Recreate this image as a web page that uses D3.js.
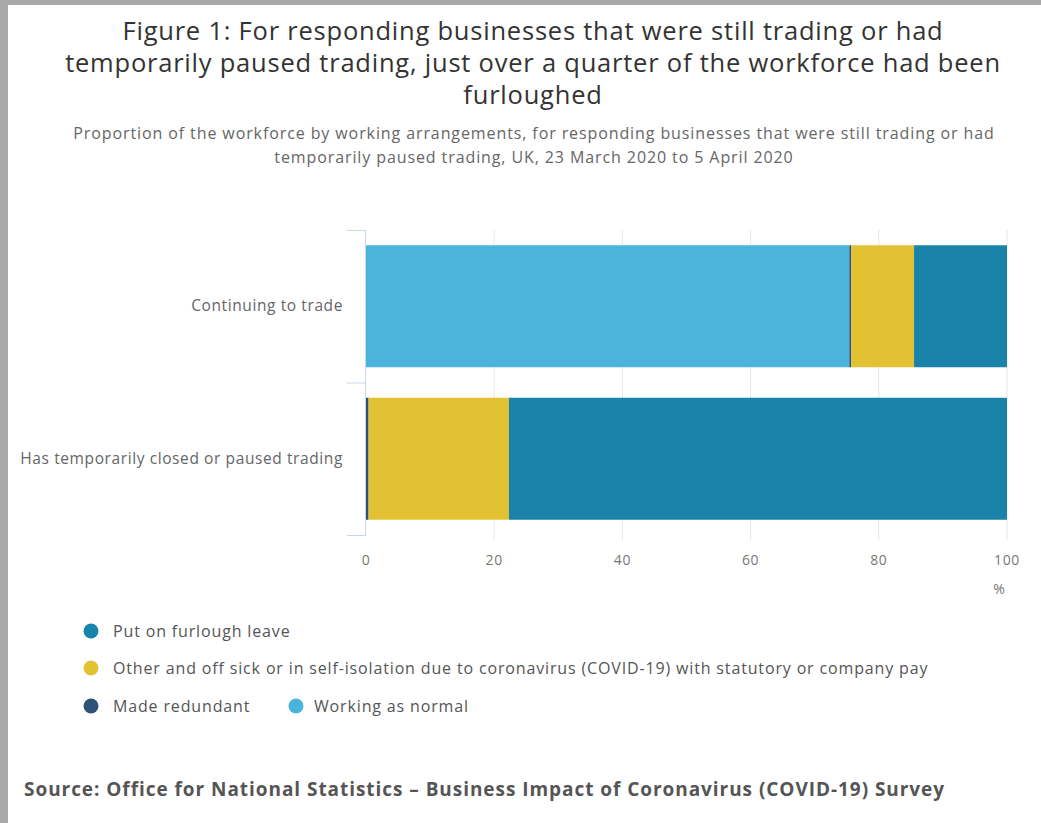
<!DOCTYPE html>
<html>
<head>
<meta charset="utf-8">
<script src="https://cdn.jsdelivr.net/npm/d3@7"></script>
<style>
  body { margin: 0; background: #a8a8a8; }
  svg { display: block; font-family: "Open Sans", sans-serif; }
</style>
</head>
<body>
<div id="chart"></div>
<script>
const categories = ["Continuing to trade", "Has temporarily closed or paused trading"];
const seriesKeys = ["normal", "redundant", "other", "furlough"];
const workingAsNormal = [75.4, 0.0];
const madeRedundant = [0.3, 0.4];
const otherSick = [9.8, 21.9];
const furlough = [14.5, 77.7];
const xTicks = [0, 20, 40, 60, 80, 100];

const legendItems = [
  { key: "furlough", label: "Put on furlough leave" },
  { key: "other", label: "Other and off sick or in self-isolation due to coronavirus (COVID-19) with statutory or company pay" },
  { key: "redundant", label: "Made redundant" },
  { key: "normal", label: "Working as normal" }
];

const colors = {
  furlough: "#1a83aa",
  other: "#e2c232",
  redundant: "#2e5277",
  normal: "#4ab4dc"
};

const width = 1041;
const height = 823;

// build rows for the stack
const rows = categories.map((c, i) => ({
  cat: c,
  normal: workingAsNormal[i],
  redundant: madeRedundant[i],
  other: otherSick[i],
  furlough: furlough[i]
}));

const svg = d3.select("#chart")
  .append("svg")
  .attr("width", width)
  .attr("height", height);

// gray frame on the left and top, white card
svg.append("rect")
  .attr("x", 8).attr("y", 5)
  .attr("width", width - 8).attr("height", height - 5)
  .attr("fill", "#fff");

const x = d3.scaleLinear([0, 100], [366, 1007]);
const y = d3.scaleBand(categories, [230, 535]).paddingInner(0.2).paddingOuter(0.1);

// title
const title = [
  "Figure 1: For responding businesses that were still trading or had",
  "temporarily paused trading, just over a quarter of the workforce had been",
  "furloughed"
];
svg.append("g")
  .selectAll("text")
  .data(title)
  .join("text")
  .attr("x", 533)
  .attr("y", (d, i) => 40 + i * 32)
  .attr("text-anchor", "middle")
  .attr("font-size", 25.5)
  .attr("letter-spacing", 0.78)
  .attr("fill", "#333")
  .text((d) => d);

const subtitle = [
  "Proportion of the workforce by working arrangements, for responding businesses that were still trading or had",
  "temporarily paused trading, UK, 23 March 2020 to 5 April 2020"
];
svg.append("g")
  .selectAll("text")
  .data(subtitle)
  .join("text")
  .attr("x", 534)
  .attr("y", (d, i) => 139 + i * 24)
  .attr("text-anchor", "middle")
  .attr("font-size", 16)
  .attr("letter-spacing", 0.9)
  .attr("fill", "#666")
  .text((d) => d);

// grid lines
svg.append("g")
  .selectAll("line")
  .data(xTicks.slice(1))
  .join("line")
  .attr("x1", (d) => x(d)).attr("x2", (d) => x(d))
  .attr("y1", 230).attr("y2", 540)
  .attr("stroke", "#e6e6e6")
  .attr("stroke-width", 1);

// x tick labels
svg.append("g")
  .selectAll("text")
  .data(xTicks)
  .join("text")
  .attr("x", (d) => x(d))
  .attr("y", 565)
  .attr("text-anchor", "middle")
  .attr("font-size", 14)
  .attr("letter-spacing", 0.6)
  .attr("fill", "#777")
  .text((d) => d);

svg.append("text")
  .attr("x", x(100) - 8)
  .attr("y", 594)
  .attr("text-anchor", "middle")
  .attr("font-size", 14)
  .attr("fill", "#777")
  .text("%");

// stacked bars
const stack = d3.stack().keys(seriesKeys)(rows);

svg.append("g")
  .selectAll("g")
  .data(stack)
  .join("g")
  .attr("fill", (d) => colors[d.key])
  .selectAll("rect")
  .data((d) => d)
  .join("rect")
  .attr("x", (d) => x(d[0]))
  .attr("width", (d) => x(d[1]) - x(d[0]))
  .attr("y", (d) => y(d.data.cat))
  .attr("height", y.bandwidth());

// y axis bracket
const yAxis = svg.append("g");
yAxis.append("line")
  .attr("x1", 365.5).attr("x2", 365.5)
  .attr("y1", 230).attr("y2", 535)
  .attr("stroke", "#ccd6eb");
yAxis.selectAll("line.tick")
  .data([230, 382.5, 535])
  .join("line")
  .attr("class", "tick")
  .attr("x1", 347).attr("x2", 366)
  .attr("y1", (d) => d + 0.5).attr("y2", (d) => d + 0.5)
  .attr("stroke", "#ccd6eb");

yAxis.selectAll("text")
  .data(categories)
  .join("text")
  .attr("x", 343)
  .attr("y", (d) => y(d) + y.bandwidth() / 2 + 5)
  .attr("text-anchor", "end")
  .attr("font-size", 15.5)
  .attr("letter-spacing", 0.6)
  .attr("fill", "#666")
  .text((d) => d);

// legend
const legendPos = [
  { x: 91, y: 631, dx: 22 },
  { x: 91, y: 668, dx: 22 },
  { x: 91, y: 706, dx: 22 },
  { x: 296, y: 706, dx: 18 }
];
const legend = svg.append("g")
  .selectAll("g")
  .data(legendItems)
  .join("g")
  .attr("transform", (d, i) => `translate(${legendPos[i].x},${legendPos[i].y})`);
legend.append("circle")
  .attr("r", 7.5)
  .attr("fill", (d) => colors[d.key]);
legend.append("text")
  .attr("x", (d, i) => legendPos[i].dx)
  .attr("y", 5.5)
  .attr("font-size", 16)
  .attr("letter-spacing", 0.85)
  .attr("fill", "#555")
  .text((d) => d.label);

// source
svg.append("text")
  .attr("x", 24)
  .attr("y", 796)
  .attr("font-size", 19)
  .attr("font-weight", "bold")
  .attr("letter-spacing", 0.95)
  .attr("fill", "#555")
  .text("Source: Office for National Statistics \u2013 Business Impact of Coronavirus (COVID-19) Survey");
</script>
</body>
</html>
